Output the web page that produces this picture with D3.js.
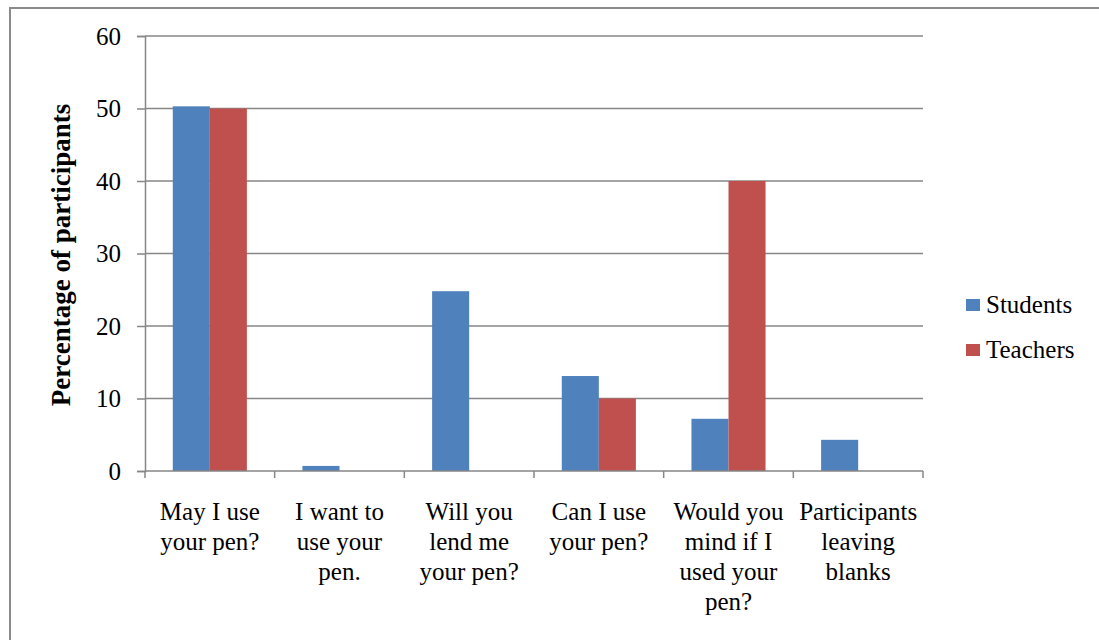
<!DOCTYPE html>
<html>
<head>
<meta charset="utf-8">
<script src="https://cdn.jsdelivr.net/npm/d3@7/dist/d3.min.js"></script>
<style>
  html, body { margin: 0; padding: 0; background: #fff; }
  svg { display: block; }
  svg text { font-family: "Liberation Serif", "Times New Roman", Times, serif !important; fill: #000; }
</style>
</head>
<body>
<svg id="chart" width="1099" height="640"></svg>
<script>
// Responses to the pen-borrowing request, by group
const categories = [
  "May I use your pen?",
  "I want to use your pen.",
  "Will you lend me your pen?",
  "Can I use your pen?",
  "Would you mind if I used your pen?",
  "Participants leaving blanks"
];
const categoryLines = [
  ["May I use", "your pen?"],
  ["I want to", "use your", "pen."],
  ["Will you", "lend me", "your pen?"],
  ["Can I use", "your pen?"],
  ["Would you", "mind if I", "used your", "pen?"],
  ["Participants", "leaving", "blanks"]
];
const seriesNames = ["Students", "Teachers"];
const students = [50.3, 0.7, 24.8, 13.1, 7.2, 4.3];
const teachers = [50, 0, 0, 10, 40, 0];
const yTicks = [0, 10, 20, 30, 40, 50, 60];
const yTitle = "Percentage of participants";

const colors = { Students: "#4F81BD", Teachers: "#C0504D" };
const gridColor = "#868686";
const serif = "'Liberation Serif', 'Times New Roman', Times, serif";

const svg = d3.select("#chart");

// outer frame (top and left edges visible)
svg.append("path")
  .attr("d", "M10,640 V8 H1099")
  .attr("fill", "none")
  .attr("stroke", "#8a8a8a")
  .attr("stroke-width", 2);

const plot = { left: 145, right: 923, top: 36, bottom: 471 };

const x0 = d3.scaleBand()
  .domain(categories)
  .range([plot.left, plot.right])
  .padding(0);

const x1 = d3.scaleBand()
  .domain(seriesNames)
  .range([0, x0.bandwidth()])
  .paddingInner(0)
  .paddingOuter(0.75);

const y = d3.scaleLinear()
  .domain([0, 60])
  .range([plot.bottom, plot.top]);

// horizontal gridlines
svg.append("g")
  .selectAll("line")
  .data(yTicks.filter(t => t > 0))
  .join("line")
  .attr("x1", plot.left)
  .attr("x2", plot.right)
  .attr("y1", d => y(d))
  .attr("y2", d => y(d))
  .attr("stroke", gridColor)
  .attr("stroke-width", 1.5);

// bars
const rows = categories.map((c, i) => ({ cat: c, values: [
  { key: "Students", value: students[i] },
  { key: "Teachers", value: teachers[i] }
]}));

svg.append("g")
  .selectAll("g")
  .data(rows)
  .join("g")
  .attr("transform", d => `translate(${x0(d.cat)},0)`)
  .selectAll("rect")
  .data(d => d.values.filter(v => v.value > 0))
  .join("rect")
  .attr("x", d => x1(d.key))
  .attr("width", x1.bandwidth())
  .attr("y", d => y(d.value))
  .attr("height", d => y(0) - y(d.value))
  .attr("fill", d => colors[d.key]);

// y axis
const yAxis = svg.append("g")
  .attr("transform", `translate(${plot.left},0)`)
  .attr("font-family", serif)
  .call(d3.axisLeft(y).tickValues(yTicks).tickSize(8).tickPadding(16).tickFormat(d3.format("d")));
yAxis.attr("font-family", serif).attr("font-size", 25);
yAxis.select(".domain").attr("stroke", gridColor).attr("stroke-width", 1.5);
yAxis.selectAll(".tick line").attr("stroke", gridColor).attr("stroke-width", 1.5);
yAxis.selectAll(".tick text")
  .attr("font-family", serif)
  .style("font-family", serif)
  .style("font-size", "25px")
  .attr("fill", "#000");

// x axis line with ticks at category boundaries
const xAxis = svg.append("g");
xAxis.append("line")
  .attr("x1", plot.left).attr("x2", plot.right)
  .attr("y1", y(0)).attr("y2", y(0))
  .attr("stroke", gridColor).attr("stroke-width", 1.5);
const boundaries = categories.map(c => x0(c)).concat([x0.range()[1]]);
xAxis.selectAll("line.tick")
  .data(boundaries)
  .join("line")
  .attr("class", "tick")
  .attr("x1", d => d).attr("x2", d => d)
  .attr("y1", y(0)).attr("y2", y(0) + 7)
  .attr("stroke", gridColor).attr("stroke-width", 1.5);

// category labels
const labels = svg.append("g")
  .selectAll("text")
  .data(categories)
  .join("text")
  .attr("x", d => x0(d) + x0.bandwidth() / 2)
  .attr("y", 520)
  .attr("text-anchor", "middle")
  .style("font-family", serif)
  .style("font-size", "25px");
labels.selectAll("tspan")
  .data((d, i) => categoryLines[i])
  .join("tspan")
  .attr("x", function() { return this.parentNode.getAttribute("x"); })
  .attr("dy", (d, i) => i === 0 ? 0 : 30)
  .text(d => d);

// y axis title
svg.append("text")
  .attr("transform", "translate(70,255) rotate(-90)")
  .attr("text-anchor", "middle")
  .style("font-family", serif)
  .style("font-size", "27px")
  .style("font-weight", "bold")
  .text(yTitle);

// legend
const legend = svg.append("g")
  .selectAll("g")
  .data(seriesNames)
  .join("g")
  .attr("transform", (d, i) => `translate(966,${299 + i * 45})`);
legend.append("rect")
  .attr("width", 14).attr("height", 12)
  .attr("fill", d => colors[d]);
legend.append("text")
  .attr("x", 20).attr("y", 14)
  .style("font-family", serif)
  .style("font-size", "25px")
  .text(d => d);
</script>
</body>
</html>
